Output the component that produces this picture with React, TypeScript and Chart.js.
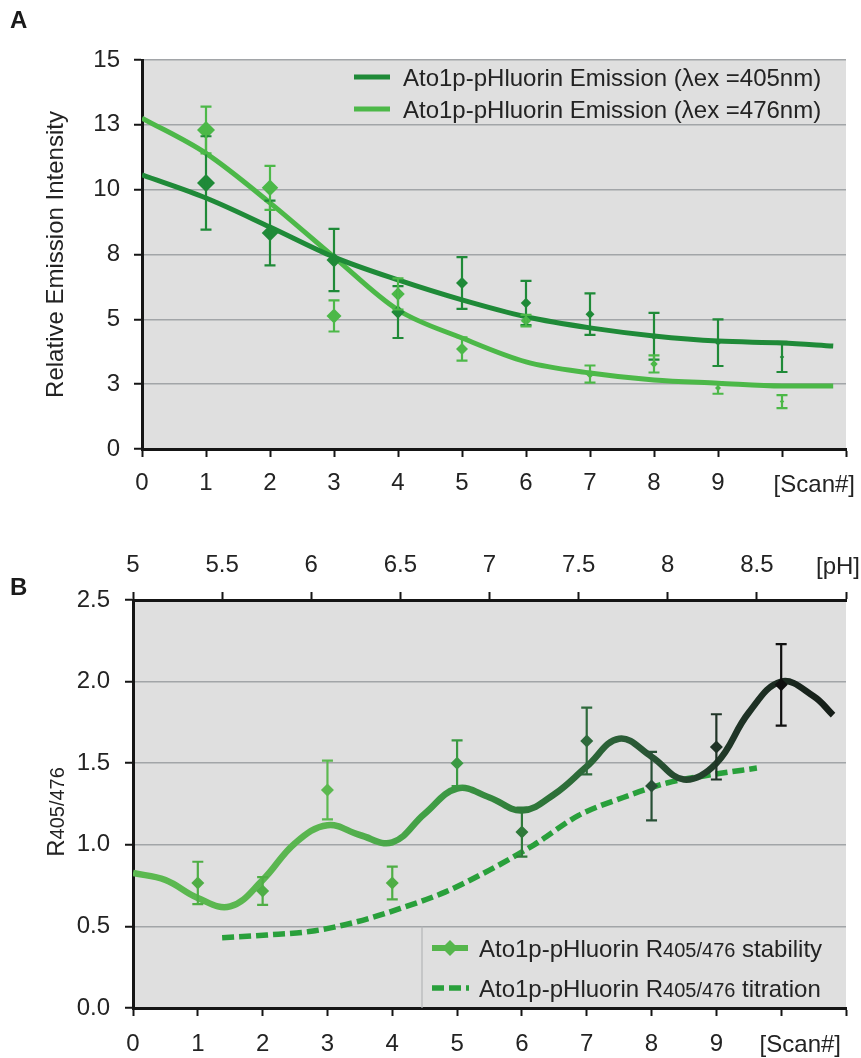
import React, { useEffect, useRef } from 'react';
import { Chart, registerables } from 'chart.js';

Chart.register(...registerables);

const FONT = "'Liberation Sans', Arial, Helvetica, sans-serif";
const TEXT = '#232323';
const AXIS = '#151515';
const GRID = '#a2a5a8';
const PLOT_BG = '#dfdfdf';
const DARK_A = '#1f8a38';
const LIGHT_A = '#4cb848';
const TITR_COLOR = '#29a03b';

// ---------- Panel A data ----------
const SCAN_A = [1, 2, 3, 4, 5, 6, 7, 8, 9, 10];
const EM405_MEAN = [10.26, 8.33, 7.29, 5.28, 6.4, 5.63, 5.2, 4.35, 4.1, 3.55];
const EM405_ERR = [1.8, 1.25, 1.2, 1.0, 1.0, 0.85, 0.8, 0.9, 0.9, 0.58];
const EM476_MEAN = [12.3, 10.07, 5.13, 5.98, 3.86, 4.95, 2.89, 3.28, 2.35, 1.83];
const EM476_ERR = [0.9, 0.85, 0.6, 0.6, 0.45, 0.22, 0.33, 0.33, 0.22, 0.25];
const FIT_X_A = [0, 1, 2, 3, 4, 5, 6, 7, 8, 9, 10, 10.8];
const FIT405 = [10.57, 9.68, 8.56, 7.4, 6.52, 5.75, 5.1, 4.67, 4.36, 4.16, 4.09, 3.97];
const FIT476 = [12.76, 11.4, 9.49, 7.4, 5.36, 4.28, 3.36, 2.93, 2.66, 2.54, 2.43, 2.43];
const LEGEND_A = ['Ato1p-pHluorin Emission (λex =405nm)', 'Ato1p-pHluorin Emission (λex =476nm)'];

// ---------- Panel B data ----------
const SCAN_B = [1, 2, 3, 4, 5, 6, 7, 8, 9, 10];
const STAB_MEAN = [0.766, 0.717, 1.336, 0.766, 1.5, 1.078, 1.636, 1.36, 1.6, 1.98];
const STAB_ERR = [0.13, 0.085, 0.18, 0.1, 0.14, 0.15, 0.205, 0.21, 0.2, 0.25];
const STAB_FIT_X = [0, 0.5, 1, 1.5, 2, 2.5, 3, 3.5, 4, 4.5, 5, 5.5, 6, 6.5, 7, 7.5, 8, 8.5, 9, 9.5, 10, 10.5, 10.8];
const STAB_FIT = [0.827, 0.784, 0.674, 0.622, 0.784, 1.01, 1.12, 1.06, 1.015, 1.19, 1.345, 1.29, 1.21, 1.31, 1.48, 1.65, 1.54, 1.4, 1.5, 1.81, 2.0, 1.91, 1.795];
const TITR_PH = [5.5, 5.75, 6, 6.25, 6.5, 6.75, 7, 7.25, 7.5, 7.75, 8, 8.25, 8.5];
const TITR_R = [0.43, 0.447, 0.47, 0.527, 0.61, 0.71, 0.845, 1.0, 1.18, 1.29, 1.38, 1.43, 1.47];
const STAB_POINT_COLORS = ['#4fae45', '#4fae45', '#5cb950', '#4fae45', '#3a9a42', '#2f7a3a', '#2e6a3c', '#285036', '#1f3326', '#0f0f0f'];

const xy = (xs: number[], ys: number[]) => xs.map((x, i) => ({ x, y: ys[i] }));

const bgPlugin = {
  id: 'plotBg',
  beforeDraw(chart: any) {
    const { ctx, chartArea: a } = chart;
    ctx.save();
    ctx.fillStyle = PLOT_BG;
    ctx.fillRect(a.left, a.top, a.right - a.left, a.bottom - a.top);
    ctx.restore();
  },
};

const errorBarPlugin = {
  id: 'errorBars',
  afterDatasetsDraw(chart: any) {
    const { ctx } = chart;
    chart.data.datasets.forEach((ds: any, di: number) => {
      if (!ds.errorBars) return;
      const meta = chart.getDatasetMeta(di);
      const yScale = chart.scales[meta.yAxisID];
      ctx.save();
      ctx.lineWidth = 2.2;
      ctx.lineCap = 'butt';
      meta.data.forEach((pt: any, i: number) => {
        const v = ds.data[i].y;
        const e = ds.errorBars[i];
        const yT = yScale.getPixelForValue(v + e);
        const yB = yScale.getPixelForValue(v - e);
        const x = pt.x;
        ctx.strokeStyle = Array.isArray(ds.errorColors) ? ds.errorColors[i] : ds.errorColors;
        ctx.beginPath();
        ctx.moveTo(x, yT); ctx.lineTo(x, yB);
        ctx.moveTo(x - 5.5, yT); ctx.lineTo(x + 5.5, yT);
        ctx.moveTo(x - 5.5, yB); ctx.lineTo(x + 5.5, yB);
        ctx.stroke();
      });
      ctx.restore();
    });
  },
};

function drawRText(ctx: CanvasRenderingContext2D, x: number, y: number, pre: string, sub: string, post: string, align: 'left' | 'center' = 'left') {
  ctx.textAlign = 'left';
  ctx.textBaseline = 'alphabetic';
  ctx.font = `24px ${FONT}`;
  const w1 = ctx.measureText(pre).width;
  ctx.font = `20px ${FONT}`;
  const w2 = ctx.measureText(sub).width;
  ctx.font = `24px ${FONT}`;
  const w3 = ctx.measureText(post).width;
  const sx = align === 'center' ? x - (w1 + w2 + w3) / 2 : x;
  ctx.fillText(pre, sx, y);
  ctx.font = `20px ${FONT}`;
  ctx.fillText(sub, sx + w1, y);
  ctx.font = `24px ${FONT}`;
  ctx.fillText(post, sx + w1 + w2, y);
}

const decorA = {
  id: 'decorA',
  afterDraw(chart: any) {
    const { ctx } = chart;
    ctx.save();
    ctx.fillStyle = '#1a1a1a';
    ctx.font = `bold 24px ${FONT}`;
    ctx.textAlign = 'left';
    ctx.textBaseline = 'alphabetic';
    ctx.fillText('A', 10, 28);
    const cols = [DARK_A, LIGHT_A];
    const ys = [77, 109];
    ctx.lineWidth = 5;
    for (let i = 0; i < 2; i++) {
      ctx.strokeStyle = cols[i];
      ctx.beginPath();
      ctx.moveTo(354, ys[i]);
      ctx.lineTo(390, ys[i]);
      ctx.stroke();
      ctx.fillStyle = TEXT;
      ctx.font = `24px ${FONT}`;
      ctx.fillText(LEGEND_A[i], 403, ys[i] + 8.6);
    }
    ctx.textAlign = 'right';
    ctx.fillText('[Scan#]', 855, 492);
    ctx.restore();
  },
};

const decorB = {
  id: 'decorB',
  afterDraw(chart: any) {
    const { ctx } = chart;
    const yScale = chart.scales.y;
    const area = chart.chartArea;
    ctx.save();
    ctx.fillStyle = '#1a1a1a';
    ctx.font = `bold 24px ${FONT}`;
    ctx.textAlign = 'left';
    ctx.textBaseline = 'alphabetic';
    ctx.fillText('B', 10, 75);
    ctx.fillStyle = TEXT;
    ctx.font = `24px ${FONT}`;
    ctx.textAlign = 'right';
    ctx.fillText('[pH]', 860, 54);
    ctx.fillText('[Scan#]', 841, 532);
    ctx.save();
    ctx.translate(55, 292);
    ctx.rotate(-Math.PI / 2);
    drawRText(ctx, 0, 8.6, 'R', '405/476', '', 'center');
    ctx.restore();
    const top = yScale.getPixelForValue(0.5);
    ctx.strokeStyle = '#b4b6b8';
    ctx.lineWidth = 1.2;
    ctx.beginPath();
    ctx.moveTo(422, top);
    ctx.lineTo(422, area.bottom);
    ctx.stroke();
    const y1 = 428;
    const y2 = 468;
    ctx.strokeStyle = '#55b64c';
    ctx.lineWidth = 6;
    ctx.beginPath();
    ctx.moveTo(432, y1); ctx.lineTo(468, y1);
    ctx.stroke();
    ctx.fillStyle = '#55b64c';
    ctx.beginPath();
    ctx.moveTo(450, y1 - 8); ctx.lineTo(458, y1); ctx.lineTo(450, y1 + 8); ctx.lineTo(442, y1);
    ctx.closePath();
    ctx.fill();
    ctx.strokeStyle = TITR_COLOR;
    ctx.lineWidth = 5.5;
    ctx.setLineDash([12, 5]);
    ctx.beginPath();
    ctx.moveTo(432, y2); ctx.lineTo(469, y2);
    ctx.stroke();
    ctx.setLineDash([]);
    ctx.fillStyle = TEXT;
    drawRText(ctx, 479, y1 + 8.6, 'Ato1p-pHluorin R', '405/476', ' stability');
    drawRText(ctx, 479, y2 + 8.6, 'Ato1p-pHluorin R', '405/476', ' titration');
    ctx.restore();
  },
};

const tickFont = { family: FONT, size: 24 };

function ChartA() {
  const ref = useRef<HTMLCanvasElement | null>(null);
  useEffect(() => {
    if (!ref.current) return;
    const radiusFn = (c: any) => Math.max(2, 9 - c.dataIndex * 0.75);
    const chart = new Chart(ref.current, {
      type: 'line',
      data: {
        datasets: [
          {
            label: '405 points', data: xy(SCAN_A, EM405_MEAN), showLine: false,
            pointStyle: 'rectRot', pointRadius: radiusFn, pointBackgroundColor: DARK_A, pointBorderWidth: 0,
            errorBars: EM405_ERR, errorColors: DARK_A, order: 0,
          } as any,
          {
            label: '476 points', data: xy(SCAN_A, EM476_MEAN), showLine: false,
            pointStyle: 'rectRot', pointRadius: radiusFn, pointBackgroundColor: LIGHT_A, pointBorderWidth: 0,
            errorBars: EM476_ERR, errorColors: LIGHT_A, order: 1,
          } as any,
          {
            label: LEGEND_A[0], data: xy(FIT_X_A, FIT405), borderColor: DARK_A, borderWidth: 5,
            pointRadius: 0, cubicInterpolationMode: 'monotone', order: 2,
          },
          {
            label: LEGEND_A[1], data: xy(FIT_X_A, FIT476), borderColor: LIGHT_A, borderWidth: 5,
            pointRadius: 0, cubicInterpolationMode: 'monotone', order: 3,
          },
        ],
      },
      options: {
        responsive: false,
        animation: false,
        devicePixelRatio: 1,
        events: [],
        layout: { padding: { left: 0, right: 15, top: 60, bottom: 0 } },
        plugins: { legend: { display: false }, tooltip: { enabled: false } },
        scales: {
          x: {
            type: 'linear', min: 0, max: 11,
            ticks: { stepSize: 1, autoSkip: false, maxRotation: 0, padding: 12, color: TEXT, font: tickFont,
              callback: (v: any) => (v <= 9 ? String(v) : '') },
            grid: { drawOnChartArea: false, drawTicks: true, tickLength: 8, tickColor: AXIS, tickWidth: 2 },
            border: { display: true, color: AXIS, width: 3 },
            afterFit: (s: any) => { s.height = 61; },
          },
          y: {
            type: 'linear', min: 0, max: 15,
            ticks: { stepSize: 2.5, padding: 14, color: TEXT, font: tickFont, callback: (v: any) => String(Math.round(v)) },
            grid: {
              color: (c: any) => (c.tick && c.tick.value === 0 ? 'rgba(0,0,0,0)' : GRID),
              lineWidth: 1.5, tickColor: AXIS, tickLength: 8, tickWidth: 2,
            },
            border: { display: true, color: AXIS, width: 3 },
            title: { display: true, text: 'Relative Emission Intensity', color: TEXT, font: tickFont, padding: { top: 42, bottom: 0 } },
            afterFit: (s: any) => { s.width = 142; },
          },
        },
      } as any,
      plugins: [bgPlugin, errorBarPlugin, decorA],
    });
    return () => chart.destroy();
  }, []);
  return <canvas ref={ref} width={861} height={510} style={{ position: 'absolute', left: 0, top: 0 }} />;
}

function ChartB() {
  const ref = useRef<HTMLCanvasElement | null>(null);
  useEffect(() => {
    if (!ref.current) return;
    const gradient = (c: any) => {
      const chart = c.chart;
      const a = chart.chartArea;
      if (!a) return '#4fae45';
      const g = chart.ctx.createLinearGradient(a.left, 0, a.right, 0);
      g.addColorStop(0, '#5bb950');
      g.addColorStop(0.27, '#5ab550');
      g.addColorStop(0.42, '#3f9e45');
      g.addColorStop(0.55, '#2f7a3a');
      g.addColorStop(0.7, '#2a5a36');
      g.addColorStop(0.85, '#1f3326');
      g.addColorStop(1, '#141a16');
      return g;
    };
    const chart = new Chart(ref.current, {
      type: 'line',
      data: {
        datasets: [
          {
            label: 'stability points', data: xy(SCAN_B, STAB_MEAN), showLine: false, xAxisID: 'x', yAxisID: 'y',
            pointStyle: 'rectRot', pointRadius: 6.5, pointBackgroundColor: STAB_POINT_COLORS, pointBorderWidth: 0,
            errorBars: STAB_ERR, errorColors: STAB_POINT_COLORS, order: 0,
          } as any,
          {
            label: 'Ato1p-pHluorin R405/476 stability', data: xy(STAB_FIT_X, STAB_FIT), xAxisID: 'x', yAxisID: 'y',
            borderColor: gradient, borderWidth: 6.5, pointRadius: 0, tension: 0.4, order: 1,
          },
          {
            label: 'Ato1p-pHluorin R405/476 titration', data: xy(TITR_PH, TITR_R), xAxisID: 'ph', yAxisID: 'y',
            borderColor: TITR_COLOR, borderWidth: 5.5, borderDash: [12, 5], pointRadius: 0,
            cubicInterpolationMode: 'monotone', order: 2,
          },
        ],
      },
      options: {
        responsive: false,
        animation: false,
        devicePixelRatio: 1,
        events: [],
        layout: { padding: { left: 0, right: 15, top: 20, bottom: 0 } },
        plugins: { legend: { display: false }, tooltip: { enabled: false } },
        scales: {
          x: {
            type: 'linear', position: 'bottom', min: 0, max: 11,
            ticks: { stepSize: 1, autoSkip: false, maxRotation: 0, padding: 14, color: TEXT, font: tickFont,
              callback: (v: any) => (v <= 9 ? String(v) : '') },
            grid: { drawOnChartArea: false, drawTicks: true, tickLength: 8, tickColor: AXIS, tickWidth: 2 },
            border: { display: true, color: AXIS, width: 3 },
            afterFit: (s: any) => { s.height = 50; },
          },
          ph: {
            type: 'linear', position: 'top', min: 5, max: 9,
            ticks: { stepSize: 0.5, autoSkip: false, maxRotation: 0, padding: 12, color: TEXT, font: tickFont,
              callback: (v: any) => (v < 9 ? String(v) : '') },
            grid: { drawOnChartArea: false, drawTicks: true, tickLength: 8, tickColor: AXIS, tickWidth: 2 },
            border: { display: true, color: AXIS, width: 3 },
            afterFit: (s: any) => { s.height = 60; },
          },
          y: {
            type: 'linear', min: 0, max: 2.5,
            ticks: { stepSize: 0.5, padding: 15, color: TEXT, font: tickFont, callback: (v: any) => Number(v).toFixed(1) },
            grid: {
              color: (c: any) => (c.tick && (c.tick.value === 0 || c.tick.value === 2.5) ? 'rgba(0,0,0,0)' : GRID),
              lineWidth: 1.5, tickColor: AXIS, tickLength: 8, tickWidth: 2,
            },
            border: { display: true, color: AXIS, width: 3 },
            afterFit: (s: any) => { s.width = 133; },
          },
        },
      } as any,
      plugins: [bgPlugin, errorBarPlugin, decorB],
    });
    return () => chart.destroy();
  }, []);
  return <canvas ref={ref} width={861} height={538} style={{ position: 'absolute', left: 0, top: 520 }} />;
}

export default function App() {
  return (
    <div style={{ position: 'absolute', left: 0, top: 0, width: 861, height: 1058, background: '#fff', overflow: 'hidden' }}>
      <ChartA />
      <ChartB />
    </div>
  );
}
